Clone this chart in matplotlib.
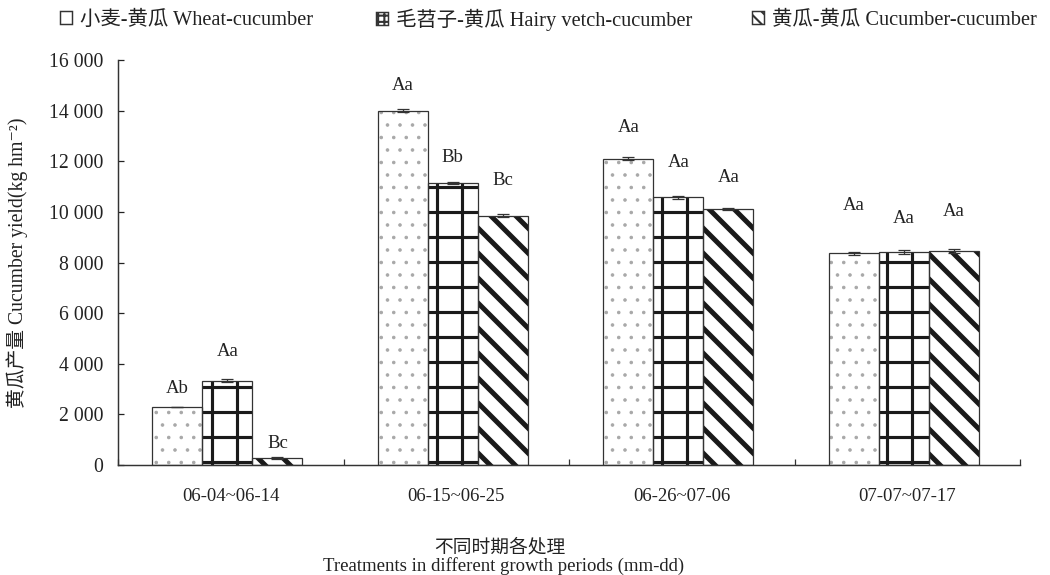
import numpy as np
import matplotlib.pyplot as plt
from matplotlib.patches import Patch

plt.rcParams['font.family'] = ['Liberation Serif', 'Noto Sans CJK SC', 'DejaVu Sans']

periods = ['06-04~06-14', '06-15~06-25', '06-26~07-06', '07-07~07-17']
series = ['小麦-黄瓜 Wheat-cucumber', '毛苕子-黄瓜 Hairy vetch-cucumber', '黄瓜-黄瓜 Cucumber-cucumber']

wheat = [2300, 14000, 12090, 8360]
vetch = [3330, 11150, 10570, 8430]
cucum = [270, 9850, 10110, 8450]
wheat_err = [0, 60, 60, 70]
vetch_err = [60, 30, 60, 80]
cucum_err = [30, 50, 50, 70]
wheat_sig = ['Ab', 'Aa', 'Aa', 'Aa']
vetch_sig = ['Aa', 'Bb', 'Aa', 'Aa']
cucum_sig = ['Bc', 'Bc', 'Aa', 'Aa']

# label offsets above bar tops, in points
wheat_off = [9, 12, 15, 23]
vetch_off = [14, 12, 17, 16]
cucum_off = [7, 17, 15, 19]

fig = plt.figure(figsize=(7.0, 575 / 150), dpi=150)
ax = fig.add_axes([118 / 1050, 1 - 465 / 575, 902 / 1050, 405 / 575])

x = np.arange(len(periods)) + 0.485
w = 0.222
styles = [
    dict(hatch='..', hc='#a8a8a8', hlw=0.5, lh=''),
    dict(hatch='+', hc='#1a1a1a', hlw=1.5, lh='++++'),
    dict(hatch='\\\\', hc='#1a1a1a', hlw=2.4, lh='\\\\\\\\'),
]
data = [(wheat, wheat_err, wheat_sig, wheat_off),
        (vetch, vetch_err, vetch_sig, vetch_off),
        (cucum, cucum_err, cucum_sig, cucum_off)]

handles = []
for i, (vals, err, sig, off) in enumerate(data):
    st = styles[i]
    pos = x + (i - 1) * w
    with plt.rc_context({'hatch.linewidth': st['hlw']}):
        hb = ax.bar(pos, vals, w, color='white', edgecolor=st['hc'], hatch=st['hatch'], linewidth=0, zorder=2)
        for p in hb:
            if hasattr(p, 'set_hatch_linewidth'):
                p.set_hatch_linewidth(st['hlw'])
    with plt.rc_context({'hatch.linewidth': 0.9}):
        hp = Patch(facecolor='white', edgecolor='#333333', hatch=st['lh'], linewidth=0.7)
        if hasattr(hp, 'set_hatch_linewidth'):
            hp.set_hatch_linewidth(0.9)
    ax.bar(pos, vals, w, facecolor='none', edgecolor='#333333', linewidth=0.6, zorder=3)
    ax.errorbar(pos, vals, yerr=err, fmt='none', ecolor='#333333', elinewidth=0.6, capsize=3, capthick=0.6, zorder=4)
    for xp, v, s, o in zip(pos, vals, sig, off):
        ax.annotate(s, (xp, v), xytext=(0, o), textcoords='offset points', ha='center', va='center',
                    fontsize=9, color='#222222')
    handles.append(hp)

ax.set_xlim(0, 4)
ax.set_ylim(0, 16000)
ax.set_yticks(np.arange(0, 16001, 2000))
ax.set_yticklabels(['{:,}'.format(v).replace(',', ' ') for v in range(0, 16001, 2000)])
ax.set_xticks(np.arange(len(periods)) + 0.5)
ax.set_xticklabels(periods)
ax.set_xticks(np.arange(0, 5), minor=True)
ax.tick_params(axis='x', which='major', length=0, pad=11, labelsize=9, colors='#222222')
ax.tick_params(axis='x', which='minor', direction='in', length=3, width=0.6, color='#333333')
ax.tick_params(axis='y', direction='in', length=3, width=0.6, pad=7, labelsize=9.5, colors='#222222')
for sp in ['top', 'right']:
    ax.spines[sp].set_visible(False)
for sp in ['left', 'bottom']:
    ax.spines[sp].set_linewidth(0.7)
    ax.spines[sp].set_color('#333333')

ax.set_ylabel('黄瓜产量 Cucumber yield(kg hm\u207b\u00b2)', fontsize=9.5, color='#222222')
ax.yaxis.set_label_coords(-0.1, 0.5)

fig.text(500 / 1050, 1 - 548 / 575, '不同时期各处理', ha='center', va='center', fontsize=9, color='#222222')
fig.text(504 / 1050, 1 - 566 / 575, 'Treatments in different growth periods (mm-dd)', ha='center', va='center',
         fontsize=9, color='#222222')

leg_x = [60, 376, 752]
for h, lab, lx in zip(handles, series, leg_x):
    lg = fig.legend([h], [lab], loc='center left', bbox_to_anchor=(lx / 1050, 1 - 20 / 575), frameon=False,
                    fontsize=9.8, handlelength=0.6, handleheight=0.6, handletextpad=0.4, borderpad=0,
                    borderaxespad=0, labelcolor='#222222')

fig.savefig('out.png', dpi=150)
